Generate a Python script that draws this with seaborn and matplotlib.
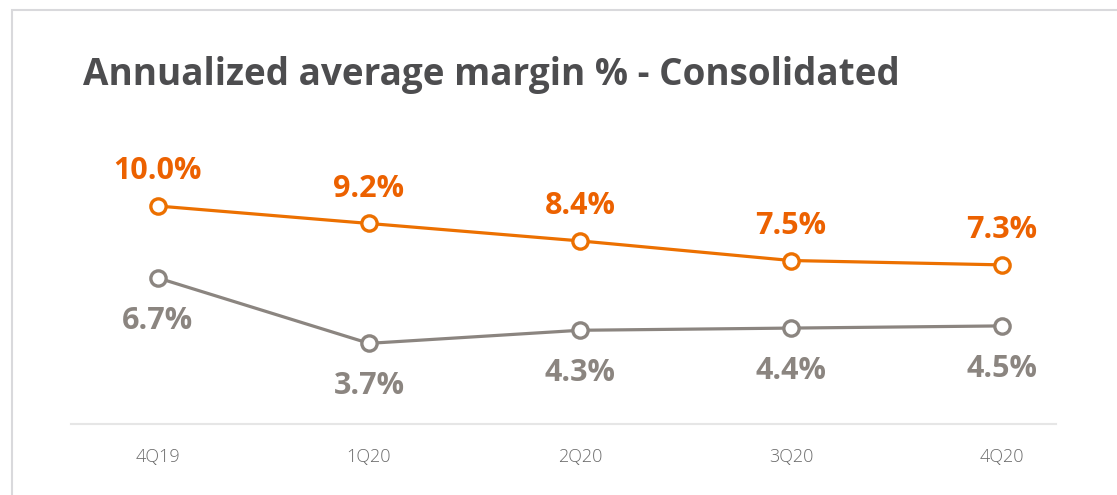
import pandas as pd
import matplotlib.pyplot as plt
import seaborn as sns
from matplotlib.patches import Rectangle

# chart data
quarters = ["4Q19", "1Q20", "2Q20", "3Q20", "4Q20"]
margin_upper = [10.0, 9.2, 8.4, 7.5, 7.3]   # orange series
margin_lower = [6.7, 3.7, 4.3, 4.4, 4.5]    # grey series

orange = "#ec7000"
orange_txt = "#ec6100"
grey = "#8b8580"

sns.set_theme(style="white")
plt.rcParams["font.family"] = ["Open Sans", "DejaVu Sans"]

fig = plt.figure(figsize=(11.17, 4.95), dpi=100)
ax = fig.add_axes([71 / 1117, 71 / 495, 985 / 1117, 274 / 495])

for vals, col in [(margin_upper, orange), (margin_lower, grey)]:
    sns.lineplot(x=quarters, y=vals, ax=ax, color=col, linewidth=2.3,
                 marker="o", markersize=11, markerfacecolor="white",
                 markeredgecolor=col, markeredgewidth=2.4, zorder=3)

# value labels
for i, v in enumerate(margin_upper):
    ax.annotate(f"{v:.1f}%", (i, v), xytext=(0, 25), textcoords="offset points",
                ha="center", va="center", fontsize=22, fontweight="bold",
                color=orange_txt)
for i, v in enumerate(margin_lower):
    ax.annotate(f"{v:.1f}%", (i, v), xytext=(0, -31), textcoords="offset points",
                ha="center", va="center", fontsize=22, fontweight="bold",
                color=grey)

ax.set_xlim(-0.412, 4.256)
ax.set_ylim(0, 12.57)
ax.set_yticks([])
ax.set_xlabel("")
ax.set_ylabel("")
for s in ["top", "right", "left"]:
    ax.spines[s].set_visible(False)
ax.spines["bottom"].set_color("#e6e6e6")
ax.spines["bottom"].set_linewidth(1.5)
ax.tick_params(axis="x", length=0, pad=17, labelsize=13, labelcolor="#6b6b6b")
for lbl in ax.get_xticklabels():
    lbl.set_fontweight("light")

fig.text(83 / 1117, 1 - 75 / 495, "Annualized average margin % - Consolidated",
         fontsize=26.6, fontweight="bold", color="#4d4d4f", va="center", ha="left")

# light frame around the panel
fig.patches.append(Rectangle((12 / 1117, -0.1), 1.2, (495 - 10) / 495 + 0.1,
                             transform=fig.transFigure, fill=False,
                             edgecolor="#d9d9dc", linewidth=1.5))

fig.savefig("out.png", dpi=100)
